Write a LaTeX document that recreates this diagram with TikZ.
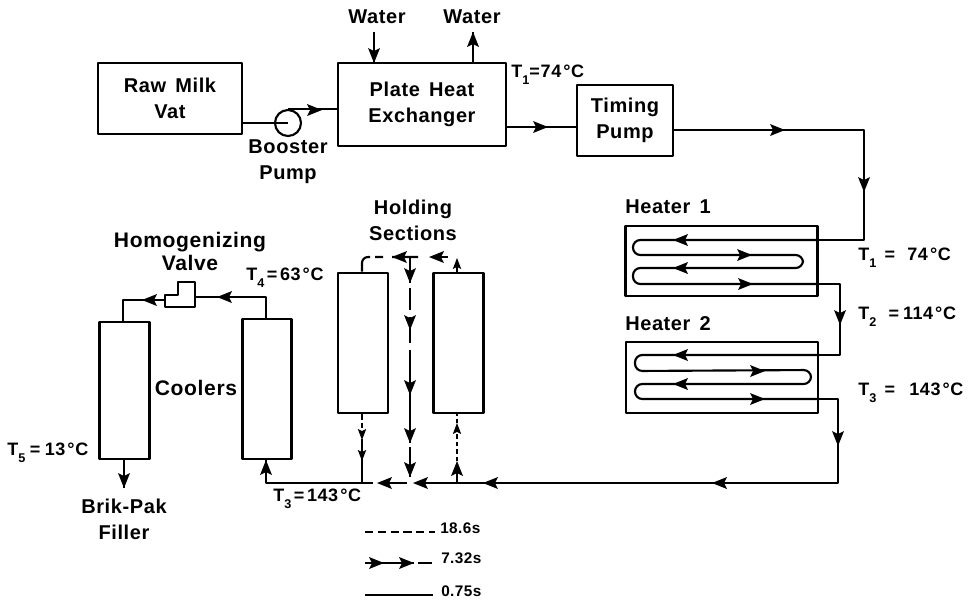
\documentclass[tikz,border=0pt]{standalone}
\usepackage{fontspec}
\setmainfont[LetterSpace=3,WordSpace=1.5]{Liberation Sans}
\newcommand{\hd}[3]{\fill[shift={(#1,#2)},rotate=#3] (0,0)--(-15,-6)--(-12,0)--(-15,6)--cycle;}
\newcommand{\hs}[3]{\fill[shift={(#1,#2)},rotate=#3] (0,0)--(-11,-4.2)--(-9,0)--(-11,4.2)--cycle;}
\newcommand{\tsb}[1]{\raisebox{-0.38em}{\fontsize{9.5pt}{10pt}\selectfont #1}}
\newcommand{\dg}{\kern1.5pt°\kern0.5pt}
\tikzset{
  box/.style={draw,line width=2.1pt,minimum width=#1,inner sep=0pt,align=center},
  lab/.style={font=\fontsize{15pt}{19.5pt}\selectfont\bfseries,align=center,inner sep=0pt},
  labb/.style={font=\fontsize{15.8pt}{17.5pt}\selectfont\bfseries,align=center,inner sep=0pt},
  tmp/.style={font=\fontsize{13.5pt}{16pt}\selectfont\bfseries,anchor=west,inner sep=0pt},
  leg/.style={font=\fontsize{11.5pt}{14pt}\selectfont\bfseries,anchor=west,inner sep=0pt},
  flow/.style={line width=1.6pt},
  mainline/.style={line width=1.9pt},
  heavy/.style={line width=2.2pt}
}
\begin{document}
\begin{tikzpicture}[x=0.75pt,y=-0.75pt,line join=round]
\useasboundingbox[fill=white] (0,0) rectangle (972,601);
% boxes
\node[box=108pt,minimum height=53.25pt,lab] (raw) at (170,98.5) {Raw Milk\\Vat};
\node[box=126pt,minimum height=62.25pt,lab] (phe) at (422,104.5) {Plate Heat\\Exchanger};
\node[box=72pt,minimum height=53.25pt,lab] (tp) at (625,120.5) {Timing\\Pump};
\node[box=143.5pt,minimum height=52.5pt] (h1) at (721.5,261) {};
\node[box=144pt,minimum height=53.25pt] (h2) at (722,377.5) {};
\node[box=37.5pt,minimum height=105pt] (hs1) at (363,343) {};
\node[box=37pt,minimum height=105pt] (hs2) at (458.5,343) {};
\node[box=37.5pt,minimum height=102.75pt] (c1) at (124.5,390.5) {};
\node[box=36.75pt,minimum height=105pt] (c2) at (267,389) {};
\node[draw,circle,line width=1.6pt,minimum size=19.5pt,inner sep=0pt] (bp) at (288,123) {};
% labels
\node[lab] (lw1) at (377,17) {Water};
\node[lab] (lw2) at (472,17) {Water};
\node[lab] (lbp) at (288,162) {Booster\\Pump};
\node[lab,anchor=west] (lh1) at (625,207) {Heater 1};
\node[lab,anchor=west] (lh2) at (625,324) {Heater 2};
\node[lab] (lhs) at (413,220) {Holding\\Sections};
\node[labb] (lhv) at (190,251.5) {Homogenizing\\Valve};
\node[labb] (lco) at (196,388) {Coolers};
\node[lab] (lbk) at (124,519) {Brik-Pak\\Filler};
\node[tmp] (t1a) at (511,75) {T\tsb{1}=\kern0.7pt74\dg C};
\node[tmp] (t1b) at (858,258) {T\tsb{1} =\kern3pt{} 74\dg C};
\node[tmp] (t2) at (858,317) {T\tsb{2}\kern3pt{} =\kern3pt 114\dg C};
\node[tmp] (t3a) at (858,393) {T\tsb{3} =\kern4.5pt{} 143\dg C};
\node[tmp] (t4) at (246,278) {T\tsb{4}\kern2pt=\kern2pt 63\dg C};
\node[tmp] (t5) at (7,453) {T\tsb{5}\kern3.4pt=\kern3.4pt 13\dg C};
\node[tmp] (t3b) at (273,499) {T\tsb{3}\kern2pt=\kern2pt 143\dg C};
\node[leg] (l1) at (440,528) {18.6s};
\node[leg] (l2) at (441,558) {7.32s};
\node[leg] (l3) at (441,591) {0.75s};
% free ends
\coordinate (win) at (374,32);
\coordinate (wout) at (473,32);
\coordinate (fil) at (124,488);
\coordinate (r1) at (864,130);
\coordinate (r2) at (864,240);
\coordinate (s1) at (840,284);
\coordinate (s2) at (840,355);
\coordinate (u1) at (838,399);
\coordinate (u2) at (838,483);
\coordinate (hub) at (410,483);
\coordinate (top) at (410,257);
\coordinate (valE) at (195,297);
\coordinate (valW) at (165,300);
\coordinate (v1) at (123,300);
\coordinate (v2) at (266,297);
% top row
\draw[flow] (raw.east |- bp) -- (bp.center);
\draw[flow] (bp.north) -- (phe.west |- bp.north);
\hd{322}{110}{0}
\draw[heavy] (win) -- (win |- phe.north); \hd{374}{63}{-90}
\draw[heavy] (wout |- phe.north) -- (wout); \hd{473}{32}{90}
\draw[flow] (phe.east |- 0,127) -- (tp.west |- 0,127); \hd{548}{127}{0}
\draw[flow] (tp.east |- r1) -- (r1) -- (r2) -- (h1.east |- r2);
\hd{785}{130}{0}\hd{864}{192}{-90}
% heater coils
\draw[flow,rounded corners=5.5pt] (h1.east |- 0,240) -- (633,240) -- (633,255) -- (803,255) -- (803,268) -- (633,268) -- (633,284) -- (h1.east |- 0,284);
\hd{673}{240}{180}\hd{752}{255}{0}\hd{673}{268}{180}\hd{753}{284}{0}
\draw[flow] (h1.east |- s1) -- (s1) -- (s2) -- (h2.east |- s2);
\hd{840}{325}{-90}
\draw[flow,rounded corners=5.5pt] (h2.east |- 0,355) -- (635,355) -- (635,371) -- (811,370) -- (811,384) -- (635,384) -- (635,399) -- (h2.east |- 0,399);
\hd{673}{355}{180}\hd{765}{371}{0}\hd{673}{384}{180}\hd{765}{399}{0}
\draw[flow] (h2.east |- u1) -- (u1) -- (u2) -- (600,483);
\draw[mainline] (600,483) -- (415,483);
\hd{838}{446}{-90}\hd{712}{483}{180}\hd{483}{483}{180}\hd{413}{483}{180}
% return to first cooler
\draw[mainline] (407,483) -- (379,483); \hd{377}{483}{180}
\draw[mainline] (373,483) -- (266,483) -- (c2.south -| 266,0);
\hd{266}{460}{90}
% holding sections
\draw[heavy,dash pattern=on 19.5pt off 3.75pt on 16.5pt off 5.25pt on 19.5pt off 5.25pt on 70pt off 3pt on 22.5pt off 50pt] (top) -- (hub);
\hd{410}{283}{-90}\hd{410}{330}{-90}\hd{410}{395}{-90}\hd{410}{443}{-90}\hd{410}{477}{-90}
\draw[flow,dash pattern=on 19.5pt off 6.75pt on 6pt off 3.75pt on 60pt] (418,257) -- (368,257) to[out=180,in=90] (362,263) -- (hs1.north -| 362,0);
\hd{392}{257}{180}
\draw[heavy] (448,257) -- (440,257); \hd{429}{257}{180}
\draw[flow] (hs2.north -| 457,0) -- (457,262); \hs{457}{258}{90}
\draw[mainline,dash pattern=on 4pt off 2.2pt on 4pt off 2.2pt on 4pt off 2.2pt on 60pt] (hs1.south -| 362,0) -- (362,483);
\hs{362}{440}{-90}\hs{362}{461}{-90}
\draw[mainline,dash pattern=on 14pt off 2.2pt on 3.5pt off 2.2pt on 3.5pt off 2.2pt on 3.5pt off 2.2pt on 3.5pt off 2.2pt on 3.5pt off 2.2pt on 3.5pt off 2.2pt on 3.5pt off 2.2pt] (457,483) -- (hs2.south -| 457,0);
\hd{457}{461}{90}\hs{457}{423}{90}
% coolers and valve
\draw[line width=2pt] (165,307) -- (165,295) -- (178,295) -- (178,282) -- (195,282) -- (195,307) -- cycle;
\draw[flow] (c2.north -| v2) -- (v2) -- (valE); \hd{217}{297}{180}
\draw[flow] (valW) -- (v1) -- (c1.north -| v1); \hd{142}{300}{180}
\draw[heavy] (c1.south -| fil) -- (fil); \hd{124}{488}{-90}
% legend
\coordinate (a1) at (365,532); \coordinate (a2) at (435,532);
\coordinate (b1) at (365,563); \coordinate (b2) at (432,563);
\coordinate (d1) at (365,595); \coordinate (d2) at (433,595);
\draw[line width=1.2pt,dash pattern=on 6.2pt off 3.4pt] (a1) -- (a2);
\draw[line width=1.2pt,dash pattern=on 37pt off 3pt on 11pt] (b1) -- (b2);
\hd{384}{563}{0}\hd{414}{563}{0}
\draw[line width=1.3pt] (d1) -- (d2);
\end{tikzpicture}
\end{document}
